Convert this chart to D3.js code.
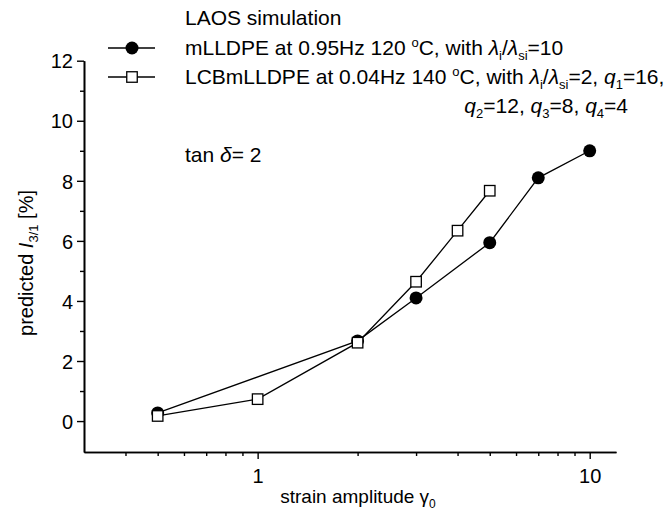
<!DOCTYPE html>
<html>
<head>
<meta charset="utf-8">
<script src="https://cdn.jsdelivr.net/npm/d3@7"></script>
<style>
  body { margin: 0; background: #fff; }
  text { font-family: "Liberation Sans", Arial, sans-serif; fill: #000; }
</style>
</head>
<body>
<div id="chart"></div>
<script>
// data
var strainM = [0.5, 2, 3, 5, 7, 10];
var i31M = [0.27, 2.67, 4.1, 5.94, 8.1, 9.0];

var strainL = [0.5, 1, 2, 3, 4, 5];
var i31L = [0.17, 0.73, 2.61, 4.64, 6.34, 7.67];

var xMajor = [1, 10];
var xMinor = [0.4, 0.5, 0.6, 0.7, 0.8, 0.9, 2, 3, 4, 5, 6, 7, 8, 9];
var yMajor = [0, 2, 4, 6, 8, 10, 12];
var yMinor = [1, 3, 5, 7, 9, 11];

var width = 666, height = 513;
var fs = 20;   // ticks
var lfs = 21;  // legend text

var svg = d3.select("#chart").append("svg")
    .attr("width", width)
    .attr("height", height);

var xScale = d3.scaleLog().domain([0.3, 12]).range([84, 616]);
var yScale = d3.scaleLinear().domain([-1.03, 12]).range([452, 60.7]);

// x axis
var xAxis = d3.axisBottom(xScale)
    .tickValues(xMajor)
    .tickSize(7)
    .tickSizeOuter(0)
    .tickFormat(d3.format("d"));
var xMinorAxis = d3.axisBottom(xScale)
    .tickValues(xMinor)
    .tickSize(4)
    .tickSizeOuter(0)
    .tickFormat("");

var gx = svg.append("g").attr("transform", "translate(0," + yScale(-1.03) + ")").call(xAxis);
svg.append("g").attr("transform", "translate(0," + yScale(-1.03) + ")").call(xMinorAxis);

// y axis
var yAxis = d3.axisLeft(yScale)
    .tickValues(yMajor)
    .tickSize(7)
    .tickSizeOuter(0)
    .tickFormat(d3.format("d"));
var yMinorAxis = d3.axisLeft(yScale)
    .tickValues(yMinor)
    .tickSize(4)
    .tickSizeOuter(0)
    .tickFormat("");

var gy = svg.append("g").attr("transform", "translate(" + xScale(0.3) + ",0)").call(yAxis);
svg.append("g").attr("transform", "translate(" + xScale(0.3) + ",0)").call(yMinorAxis);

svg.selectAll(".domain").attr("stroke", "#000").attr("stroke-width", 1.6);
svg.selectAll(".tick line").attr("stroke", "#000").attr("stroke-width", 1.4);
svg.selectAll(".tick text")
    .style("font-family", "'Liberation Sans', Arial, sans-serif")
    .style("font-size", fs + "px")
    .attr("fill", "#000");
gx.selectAll(".tick text").attr("dy", "1.05em");
gy.selectAll(".tick text").attr("x", -11).attr("dy", "0.36em");

// axis titles
var xt = svg.append("text")
    .attr("x", 358).attr("y", 503)
    .attr("text-anchor", "middle")
    .style("font-size", "19px");
xt.append("tspan").text("strain amplitude \u03b3");
xt.append("tspan").attr("dy", 5).style("font-size", "12px").text("0");

var yt = svg.append("text")
    .attr("transform", "translate(33,263) rotate(-90)")
    .attr("text-anchor", "middle")
    .style("font-size", fs + "px");
yt.append("tspan").text("predicted ");
yt.append("tspan").style("font-style", "italic").text("I");
yt.append("tspan").attr("dy", 5).style("font-size", "13px").text("3/1");
yt.append("tspan").attr("dy", -5).text(" [%]");

// series
var dataM = strainM.map(function (d, i) { return { x: d, y: i31M[i] }; });
var dataL = strainL.map(function (d, i) { return { x: d, y: i31L[i] }; });

var line = d3.line()
    .x(function (d) { return xScale(d.x); })
    .y(function (d) { return yScale(d.y); });

svg.append("path").datum(dataM)
    .attr("d", line)
    .attr("fill", "none").attr("stroke", "#000").attr("stroke-width", 1.3);
svg.append("path").datum(dataL)
    .attr("d", line)
    .attr("fill", "none").attr("stroke", "#000").attr("stroke-width", 1.3);

svg.selectAll(".dotM")
    .data(dataM)
    .enter().append("circle")
    .attr("class", "dotM")
    .attr("cx", function (d) { return xScale(d.x); })
    .attr("cy", function (d) { return yScale(d.y); })
    .attr("r", 6.5)
    .attr("fill", "#000");

var sq = 10.5;
svg.selectAll(".sqL")
    .data(dataL)
    .enter().append("rect")
    .attr("class", "sqL")
    .attr("x", function (d) { return xScale(d.x) - sq / 2; })
    .attr("y", function (d) { return yScale(d.y) - sq / 2; })
    .attr("width", sq).attr("height", sq)
    .attr("fill", "#fff").attr("stroke", "#000").attr("stroke-width", 1.3);

// legend
var lx = 185;
svg.append("text").attr("x", lx).attr("y", 25).style("font-size", lfs + "px").text("LAOS simulation");

svg.append("line").attr("x1", 108).attr("x2", 155).attr("y1", 48).attr("y2", 48)
    .attr("stroke", "#000").attr("stroke-width", 1.3);
svg.append("circle").attr("cx", 132).attr("cy", 48).attr("r", 6.5).attr("fill", "#000");

svg.append("line").attr("x1", 108).attr("x2", 155).attr("y1", 77).attr("y2", 77)
    .attr("stroke", "#000").attr("stroke-width", 1.3);
svg.append("rect").attr("x", 132 - sq / 2).attr("y", 77 - sq / 2).attr("width", sq).attr("height", sq)
    .attr("fill", "#fff").attr("stroke", "#000").attr("stroke-width", 1.3);

function addParts(t, parts) {
    parts.forEach(function (p) {
        var s = t.append("tspan").text(p.t);
        if (p.it) s.style("font-style", "italic");
        if (p.sub) s.attr("dy", 5).style("font-size", "13px");
        if (p.sup) s.attr("dy", -8).style("font-size", "13px");
        if (p.back) s.attr("dy", p.back);
    });
}

var t1 = svg.append("text").attr("x", lx).attr("y", 55).style("font-size", lfs + "px");
addParts(t1, [
    { t: "mLLDPE at 0.95Hz 120 " },
    { t: "o", sup: true },
    { t: "C, with ", back: 8 },
    { t: "\u03bb", it: true },
    { t: "i", sub: true },
    { t: "/", back: -5 },
    { t: "\u03bb", it: true },
    { t: "si", sub: true },
    { t: "=10", back: -5 }
]);

var t2 = svg.append("text").attr("x", lx).attr("y", 84).style("font-size", lfs + "px");
addParts(t2, [
    { t: "LCBmLLDPE at 0.04Hz 140 " },
    { t: "o", sup: true },
    { t: "C, with ", back: 8 },
    { t: "\u03bb", it: true },
    { t: "i", sub: true },
    { t: "/", back: -5 },
    { t: "\u03bb", it: true },
    { t: "si", sub: true },
    { t: "=2, ", back: -5 },
    { t: "q", it: true },
    { t: "1", sub: true },
    { t: "=16,", back: -5 }
]);

var t3 = svg.append("text").attr("x", 628).attr("y", 113)
    .attr("text-anchor", "end").style("font-size", lfs + "px");
addParts(t3, [
    { t: "q", it: true },
    { t: "2", sub: true },
    { t: "=12, ", back: -5 },
    { t: "q", it: true },
    { t: "3", sub: true },
    { t: "=8, ", back: -5 },
    { t: "q", it: true },
    { t: "4", sub: true },
    { t: "=4", back: -5 }
]);

var t4 = svg.append("text").attr("x", lx).attr("y", 162).style("font-size", lfs + "px");
addParts(t4, [
    { t: "tan " },
    { t: "\u03b4", it: true },
    { t: "= 2" }
]);
</script>
</body>
</html>
